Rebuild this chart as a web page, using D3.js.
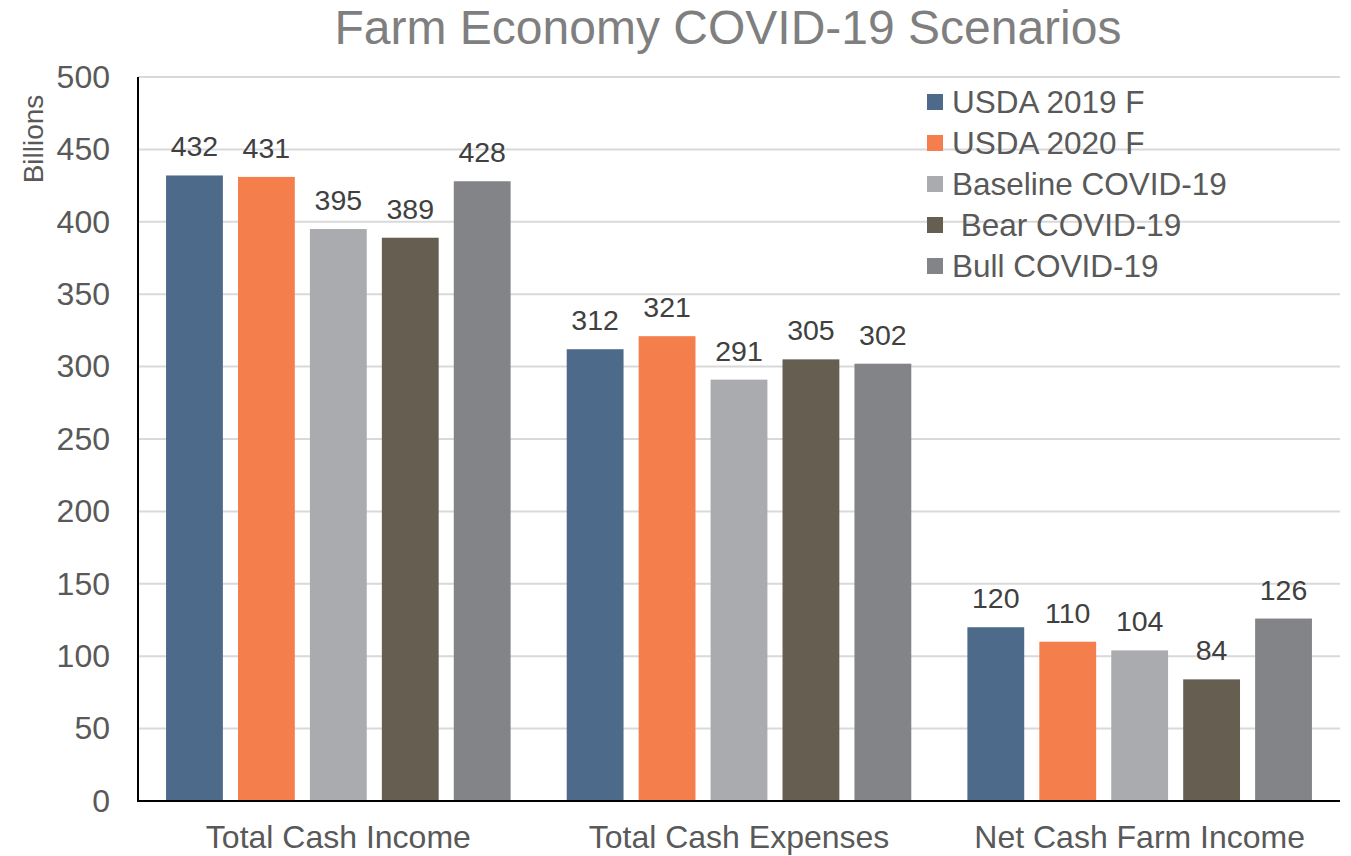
<!DOCTYPE html>
<html>
<head>
<meta charset="utf-8">
<script src="https://cdn.jsdelivr.net/npm/d3@7"></script>
<style>
  body { margin: 0; background: #fff; }
  text { font-family: "Liberation Sans", Arial, sans-serif; fill: #595959; }
</style>
</head>
<body>
<div id="chart"></div>
<script>
// chart data
const categories = ['Total Cash Income', 'Total Cash Expenses', 'Net Cash Farm Income']
const seriesNames = ['USDA 2019 F', 'USDA 2020 F', 'Baseline COVID-19', ' Bear COVID-19', 'Bull COVID-19']
const usda2019 = [432, 312, 120]
const usda2020 = [431, 321, 110]
const baseline = [395, 291, 104]
const bear = [389, 305, 84]
const bull = [428, 302, 126]
const yTicks = [0, 50, 100, 150, 200, 250, 300, 350, 400, 450, 500]

const colors = ['#4d6a8a', '#f47f4c', '#aaabae', '#665f51', '#838488']
const seriesValues = [usda2019, usda2020, baseline, bear, bull]

const width = 1351
const height = 856
const margin = { top: 77, right: 11, bottom: 55, left: 138 }

const svg = d3.select('#chart')
  .append('svg')
  .attr('width', width)
  .attr('height', height)

const x0 = d3.scaleBand()
  .domain(categories)
  .range([margin.left, width - margin.right])
  .paddingInner(0)
  .paddingOuter(0)

const x1 = d3.scaleBand()
  .domain(d3.range(seriesNames.length))
  .range([0, x0.bandwidth()])
  .paddingInner(0.21)
  .paddingOuter(0.39)

const y = d3.scaleLinear()
  .domain([0, 500])
  .range([height - margin.bottom, margin.top])

// gridlines
svg.append('g')
  .selectAll('line')
  .data(yTicks.filter(d => d > 0))
  .enter()
  .append('line')
  .attr('x1', margin.left)
  .attr('x2', width - margin.right)
  .attr('y1', d => y(d))
  .attr('y2', d => y(d))
  .style('stroke', '#d9d9d9')
  .style('stroke-width', 2)

// y axis labels
const yAxis = svg.append('g')
  .attr('transform', 'translate(' + margin.left + ',0)')
  .call(d3.axisLeft(y).tickValues(yTicks).tickSize(0).tickPadding(28))
yAxis.select('.domain').remove()
yAxis.selectAll('text')
  .style('font-size', '32px')
  .style('font-family', '"Liberation Sans", Arial, sans-serif')
  .attr('fill', '#595959')

// bars
const group = svg.append('g')
  .selectAll('g')
  .data(categories)
  .enter()
  .append('g')
  .attr('transform', d => 'translate(' + x0(d) + ',0)')

group.selectAll('rect')
  .data((d, ci) => seriesValues.map((s, si) => ({ si: si, v: s[ci] })))
  .enter()
  .append('rect')
  .attr('x', d => x1(d.si))
  .attr('width', x1.bandwidth())
  .attr('y', d => y(d.v))
  .attr('height', d => y(0) - y(d.v))
  .style('fill', d => colors[d.si])

group.selectAll('text.val')
  .data((d, ci) => seriesValues.map((s, si) => ({ si: si, v: s[ci] })))
  .enter()
  .append('text')
  .attr('class', 'val')
  .attr('x', d => x1(d.si) + x1.bandwidth() / 2)
  .attr('y', d => y(d.v) - 19)
  .attr('text-anchor', 'middle')
  .style('font-size', '28.5px')
  .style('fill', '#404040')
  .text(d => d.v)

// axis lines
svg.append('line')
  .attr('x1', margin.left)
  .attr('x2', margin.left)
  .attr('y1', y(500))
  .attr('y2', y(0) + 1)
  .style('stroke', '#000')
  .style('stroke-width', 2)

svg.append('line')
  .attr('x1', margin.left - 1)
  .attr('x2', width - margin.right)
  .attr('y1', y(0))
  .attr('y2', y(0))
  .style('stroke', '#000')
  .style('stroke-width', 2)

// category labels
const xAxis = svg.append('g')
  .attr('transform', 'translate(0,' + y(0) + ')')
  .call(d3.axisBottom(x0).tickSize(0).tickPadding(24))
xAxis.select('.domain').remove()
xAxis.selectAll('text')
  .style('font-size', '32px')
  .style('font-family', '"Liberation Sans", Arial, sans-serif')
  .attr('fill', '#595959')

// title
svg.append('text')
  .attr('x', 728)
  .attr('y', 44)
  .attr('text-anchor', 'middle')
  .style('font-size', '48px')
  .style('fill', '#7f7f7f')
  .text('Farm Economy COVID-19 Scenarios')

// y axis title
svg.append('text')
  .attr('transform', 'translate(43,139) rotate(-90)')
  .attr('text-anchor', 'middle')
  .style('font-size', '28px')
  .text('Billions')

// legend
const legend = svg.append('g')
  .selectAll('g')
  .data(seriesNames)
  .enter()
  .append('g')
  .attr('transform', (d, i) => 'translate(927,' + (102 + i * 41) + ')')

legend.append('rect')
  .attr('x', 0)
  .attr('y', -8)
  .attr('width', 16)
  .attr('height', 16)
  .style('fill', (d, i) => colors[i])

legend.append('text')
  .attr('x', 25)
  .attr('y', 11)
  .style('font-size', '31.5px')
  .style('white-space', 'pre')
  .attr('xml:space', 'preserve')
  .text(d => d)
</script>
</body>
</html>
